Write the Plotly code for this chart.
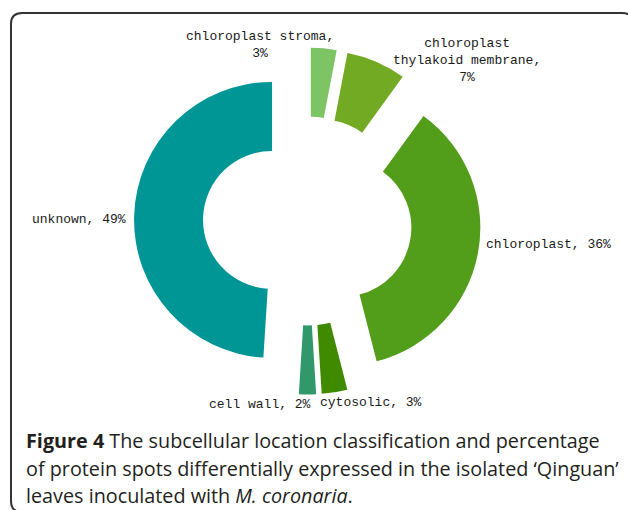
import plotly.graph_objects as go

W, H = 628, 510

categories = ["chloroplast stroma", "chloroplast thylakoid membrane", "chloroplast",
              "cytosolic", "cell wall", "unknown"]
values = [3, 7, 36, 3, 2, 49]
colors = ["#7dc465", "#73aa23", "#529e1a", "#408a00", "#30986a", "#009696"]

caption_lines = [
    "<b>Figure 4</b> The subcellular location classification and percentage",
    "of protein spots differentially expressed in the isolated \u2018Qinguan\u2019",
    "leaves inoculated with <i>M. coronaria</i>.",
]


def px_x(x):
    return x / W


def px_y(y):
    return 1 - y / H


def label_for(cat, val):
    if cat == "chloroplast stroma":
        return f"{cat},<br>{val}%"
    if cat == "chloroplast thylakoid membrane":
        first, rest = cat.split(" ", 1)
        return f"{first}<br>{rest},<br>{val}%"
    return f"{cat}, {val}%"


# pie geometry (pixels)
cx, cy, R, pull = 307.5, 221.0, 138.0, 0.257
half = R * (1 + pull)
dom_x = [px_x(cx - half), px_x(cx + half)]
dom_y = [px_y(cy + half), px_y(cy - half)]

fig = go.Figure(go.Pie(
    labels=categories,
    values=values,
    sort=False,
    direction="clockwise",
    rotation=0,
    hole=0.5,
    pull=[pull] * len(values),
    marker=dict(colors=colors, line=dict(width=0)),
    textinfo="none",
    hoverinfo="label+percent",
    showlegend=False,
    domain=dict(x=dom_x, y=dom_y),
))

# label placements: (x px, y px, xanchor)
label_pos = {
    "chloroplast stroma": (260, 45, "center"),
    "chloroplast thylakoid membrane": (467, 60, "center"),
    "chloroplast": (484, 244, "left"),
    "cytosolic": (318, 402, "left"),
    "cell wall": (313, 404, "right"),
    "unknown": (128, 219, "right"),
}

annotations = []
for cat, val in zip(categories, values):
    x, y, xa = label_pos[cat]
    annotations.append(dict(
        x=px_x(x), y=px_y(y), xref="paper", yref="paper",
        text=label_for(cat, val), showarrow=False,
        xanchor=xa, yanchor="middle", align="center",
        font=dict(family="Liberation Mono", size=13, color="#1a1a1a"),
    ))

cap_y = [440, 468, 495]
for line, y in zip(caption_lines, cap_y):
    annotations.append(dict(
        x=px_x(24), y=px_y(y), xref="paper", yref="paper",
        text=line, showarrow=False, xanchor="left", yanchor="middle",
        align="left",
        font=dict(family="Open Sans", size=19.8, color="#231f20"),
    ))

# rounded frame (partly off-canvas on right/bottom as in the reference)
x0, y0, x1, y1, r = 11, 13, 633, 512, 11
xs = lambda v: px_x(v)
ys = lambda v: px_y(v)
path = (f"M {xs(x0)},{ys(y1 - r)} L {xs(x0)},{ys(y0 + r)} "
        f"Q {xs(x0)},{ys(y0)} {xs(x0 + r)},{ys(y0)} "
        f"L {xs(x1 - r)},{ys(y0)} Q {xs(x1)},{ys(y0)} {xs(x1)},{ys(y0 + r)} "
        f"L {xs(x1)},{ys(y1 - r)} Q {xs(x1)},{ys(y1)} {xs(x1 - r)},{ys(y1)} "
        f"L {xs(x0 + r)},{ys(y1)} Q {xs(x0)},{ys(y1)} {xs(x0)},{ys(y1 - r)} Z")

fig.update_layout(
    width=W, height=H,
    margin=dict(l=0, r=0, t=0, b=0),
    paper_bgcolor="white",
    plot_bgcolor="white",
    annotations=annotations,
    shapes=[dict(type="path", xref="paper", yref="paper", path=path,
                 line=dict(color="#333333", width=2), fillcolor="rgba(0,0,0,0)")],
)

fig.write_html("out.html",
               config={"displayModeBar": False},
               post_script="document.body.style.margin='0';document.body.style.padding='0';")
